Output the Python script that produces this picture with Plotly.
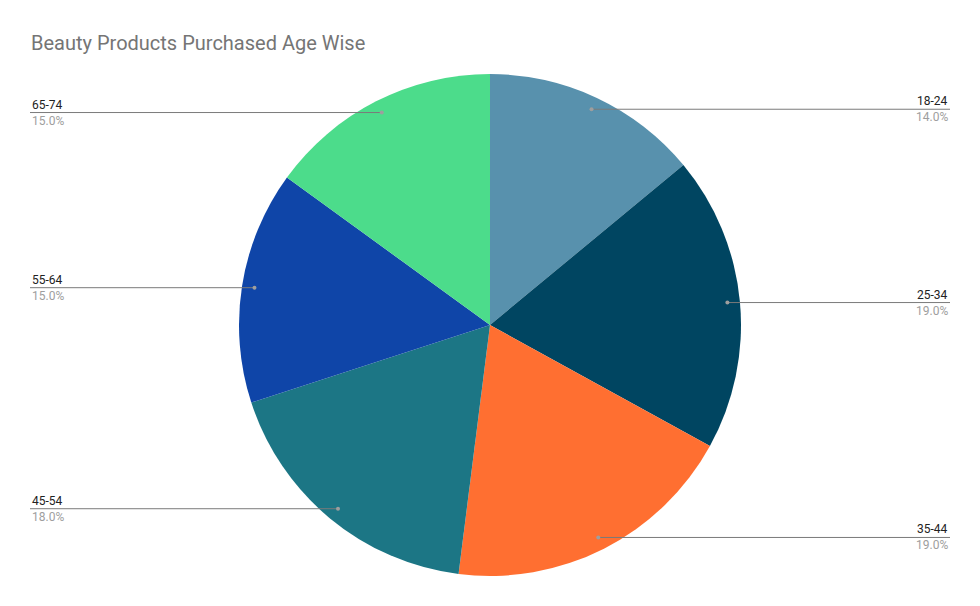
import numpy as np
import plotly.graph_objects as go

# Data
age_groups = ['18-24', '25-34', '35-44', '45-54', '55-64', '65-74']
shares = [14, 19, 19, 18, 15, 15]
slice_colors = ['#5891AD', '#004561', '#FF6F31', '#1C7685', '#0F45A8', '#4CDC8B']

W, H = 980, 606
off = 8                      # page body margin of the html page
cx, cy, r = 490 - off, 325 - off, 251   # pie centre / radius in pixels
left_x, right_x = 30 - off, 950 - off

fig = go.Figure()

fig.add_trace(go.Pie(
    labels=age_groups,
    values=shares,
    sort=False,
    direction='clockwise',
    rotation=0,
    marker=dict(colors=slice_colors, line=dict(width=0)),
    textinfo='none',
    hoverinfo='label+percent',
    showlegend=False,
    domain=dict(x=[(cx - r) / W, (cx + r) / W],
                y=[1 - (cy + r) / H, 1 - (cy - r) / H]),
))

# leader lines + labels, placed from each slice's mid angle
total = sum(shares)
cum = np.cumsum([0] + shares[:-1])
shapes = []
annotations = []
for name, v, c in zip(age_groups, shares, cum):
    ang = 2 * np.pi * (c + v / 2) / total
    px_ = cx + 0.95 * r * np.sin(ang)
    py_ = cy - 0.95 * r * np.cos(ang)
    right = np.sin(ang) > 0
    end_x = right_x if right else left_x
    shapes.append(dict(
        type='line', xref='x', yref='y', layer='above',
        x0=px_, y0=py_, x1=end_x, y1=py_,
        line=dict(color='#7a7a7a', width=1),
    ))
    shapes.append(dict(
        type='circle', xref='x', yref='y', layer='above',
        x0=px_ - 2, y0=py_ - 2, x1=px_ + 2, y1=py_ + 2,
        fillcolor='#9e9e9e', line=dict(width=0),
    ))
    xanchor = 'right' if right else 'left'
    annotations.append(dict(
        x=end_x, y=py_, xref='x', yref='y', text=name, showarrow=False,
        xanchor=xanchor, yanchor='bottom', yshift=-1,
        font=dict(family='Roboto, Arial', size=12, color='#222222'),
    ))
    annotations.append(dict(
        x=end_x, y=py_, xref='x', yref='y', text=f'{v / total * 100:.1f}%',
        showarrow=False, xanchor=xanchor, yanchor='top', yshift=1,
        font=dict(family='Roboto, Arial', size=12, color='#9e9e9e'),
    ))

fig.update_layout(
    width=W, height=H,
    margin=dict(l=0, r=0, t=0, b=0),
    paper_bgcolor='white',
    plot_bgcolor='rgba(0,0,0,0)',
    title=dict(text='Beauty Products Purchased Age Wise',
               x=(31 - off) / W, xanchor='left', y=1 - (43 - off) / H,
               yanchor='middle',
               font=dict(family='Roboto, Arial', size=20, color='#757575')),
    xaxis=dict(range=[0, W], visible=False, fixedrange=True),
    yaxis=dict(range=[H, 0], visible=False, fixedrange=True),
    shapes=shapes,
    annotations=annotations,
)

fig.write_html('out.html')
